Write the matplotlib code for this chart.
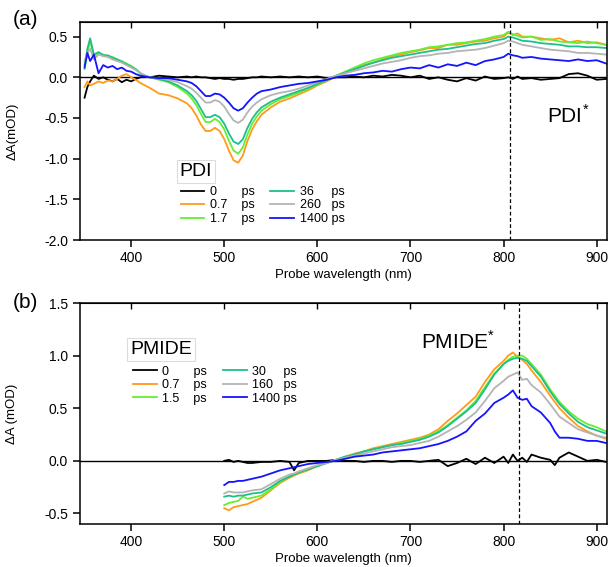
import numpy as np
import matplotlib
matplotlib.use('Agg')
import matplotlib.pyplot as plt

plt.rcParams['font.family'] = ['Liberation Sans', 'DejaVu Sans']
plt.rcParams['mathtext.fontset'] = 'custom'
plt.rcParams['mathtext.rm'] = 'Liberation Sans'

# ---- panel (a) data: PDI ----
wl_a = [350, 353, 356, 360, 365, 370, 375, 380, 385, 390,
        395, 400, 405, 410, 415, 420, 430, 440, 450, 460,
        465, 470, 475, 480, 485, 490, 495, 500, 505, 510,
        515, 520, 525, 530, 535, 540, 550, 560, 570, 580,
        590, 600, 610, 620, 630, 640, 650, 660, 670, 680,
        690, 700, 710, 720, 730, 740, 750, 760, 770, 780,
        790, 800, 805, 810, 815, 820, 830, 840, 850, 860,
        870, 880, 890, 900, 910]

pdi_0 = [-0.25, -0.12, -0.05, 0.02, -0.02, 0.0, -0.03, -0.05, -0.02, -0.06,
         -0.03, -0.05, -0.02, 0.0, 0.01, 0.0, 0.02, 0.01, 0.0, 0.01,
         0.0, 0.01, 0.0, 0.0, -0.01, -0.02, -0.01, -0.02, -0.02, -0.03,
         -0.02, -0.02, -0.01, 0.0, 0.0, 0.01, 0.0, 0.01, 0.0, 0.01,
         0.0, 0.01, -0.01, 0.0, 0.0, 0.01, 0.0, 0.02, 0.01, 0.03,
         0.02, 0.0, 0.02, -0.02, 0.0, -0.03, -0.05, -0.01, -0.04, 0.01,
         -0.02, -0.01, 0.0, -0.02, 0.01, -0.02, -0.01, -0.03, -0.02, -0.01,
         0.04, 0.05, 0.02, -0.03, -0.02]
pdi_07 = [-0.12, -0.05, -0.1, -0.08, -0.05, -0.07, -0.04, -0.05, -0.02, 0.02,
          0.04, 0.0, -0.03, -0.07, -0.1, -0.13, -0.2, -0.22, -0.26, -0.32,
          -0.38, -0.47, -0.58, -0.66, -0.66, -0.62, -0.66, -0.76, -0.9, -1.02,
          -1.05, -0.96, -0.78, -0.64, -0.54, -0.46, -0.37, -0.3, -0.26, -0.21,
          -0.16, -0.1, -0.05, 0.01, 0.05, 0.1, 0.15, 0.18, 0.22, 0.26,
          0.28, 0.31, 0.33, 0.36, 0.36, 0.4, 0.4, 0.42, 0.44, 0.45,
          0.48, 0.5, 0.55, 0.52, 0.54, 0.5, 0.5, 0.48, 0.46, 0.48,
          0.43, 0.45, 0.42, 0.43, 0.4]
pdi_17 = [0.1, 0.3, 0.45, 0.25, 0.3, 0.28, 0.26, 0.25, 0.22, 0.2,
          0.17, 0.14, 0.1, 0.05, 0.02, 0.0, -0.03, -0.06, -0.12, -0.2,
          -0.26, -0.34, -0.45, -0.55, -0.55, -0.51, -0.55, -0.64, -0.78, -0.9,
          -0.94, -0.86, -0.7, -0.57, -0.48, -0.41, -0.33, -0.27, -0.23, -0.19,
          -0.14, -0.09, -0.04, 0.02, 0.07, 0.12, 0.17, 0.21, 0.24, 0.27,
          0.3, 0.32, 0.34, 0.37, 0.38, 0.4, 0.42, 0.43, 0.45, 0.47,
          0.5, 0.52, 0.56, 0.53, 0.51, 0.49, 0.5, 0.46, 0.47, 0.44,
          0.43, 0.42, 0.44, 0.42, 0.4]
pdi_36 = [0.15, 0.35, 0.48, 0.28, 0.31, 0.27, 0.27, 0.24, 0.22, 0.19,
          0.16, 0.13, 0.1, 0.05, 0.02, 0.0, -0.02, -0.05, -0.1, -0.17,
          -0.22, -0.29, -0.39, -0.49, -0.49, -0.46, -0.49, -0.57, -0.69, -0.79,
          -0.82, -0.76, -0.62, -0.51, -0.43, -0.37, -0.3, -0.25, -0.21, -0.17,
          -0.13, -0.08, -0.03, 0.02, 0.06, 0.1, 0.14, 0.18, 0.21, 0.24,
          0.26, 0.28, 0.3, 0.32, 0.34, 0.35, 0.37, 0.39, 0.41, 0.42,
          0.45, 0.47, 0.5, 0.49, 0.47, 0.45, 0.44, 0.42, 0.41, 0.4,
          0.38, 0.38, 0.37, 0.37, 0.36]
pdi_260 = [0.2, 0.3, 0.35, 0.22, 0.28, 0.26, 0.25, 0.22, 0.2, 0.18,
           0.15, 0.12, 0.09, 0.05, 0.02, 0.0, -0.01, -0.03, -0.06, -0.11,
           -0.14, -0.19, -0.25, -0.31, -0.31, -0.28, -0.3, -0.36, -0.45, -0.53,
           -0.56, -0.52, -0.43, -0.36, -0.31, -0.27, -0.22, -0.19, -0.17, -0.14,
           -0.1, -0.06, -0.02, 0.02, 0.05, 0.08, 0.11, 0.14, 0.17, 0.19,
           0.21, 0.24, 0.26, 0.27, 0.29, 0.3, 0.32, 0.33, 0.34, 0.36,
           0.39, 0.42, 0.45, 0.44, 0.42, 0.4, 0.38, 0.36, 0.34, 0.33,
           0.32, 0.3, 0.3, 0.29, 0.28]
pdi_1400 = [0.12, 0.3, 0.2, 0.28, 0.05, 0.15, 0.12, 0.14, 0.1, 0.12,
            0.08, 0.07, 0.04, 0.02, 0.01, 0.0, -0.01, -0.01, -0.03, -0.05,
            -0.07, -0.11, -0.17, -0.23, -0.23, -0.2, -0.21, -0.25, -0.31, -0.38,
            -0.41, -0.38, -0.31, -0.25, -0.2, -0.17, -0.15, -0.12, -0.1, -0.08,
            -0.07, -0.05, -0.03, 0.0, 0.02, 0.03, 0.05, 0.06, 0.08, 0.07,
            0.1, 0.12, 0.11, 0.15, 0.12, 0.16, 0.14, 0.18, 0.15, 0.2,
            0.22, 0.25, 0.29, 0.27, 0.26, 0.24, 0.25, 0.23, 0.22, 0.21,
            0.2, 0.22, 0.2, 0.21, 0.17]

# ---- panel (b) data: PMIDE ----
wl_b = [500, 505, 510, 515, 520, 525, 530, 540, 550, 560,
        570, 575, 580, 590, 600, 610, 620, 630, 640, 650,
        660, 670, 680, 690, 700, 710, 720, 730, 740, 750,
        760, 770, 780, 790, 800, 805, 810, 815, 820, 825,
        830, 840, 850, 855, 860, 870, 880, 890, 900, 910]

pm_0 = [0.0, 0.01, -0.01, 0.0, -0.01, -0.02, -0.02, -0.01, -0.01, 0.0,
        -0.01, -0.09, -0.02, 0.0, 0.0, 0.0, 0.01, 0.0, 0.0, -0.01,
        0.0, 0.0, -0.01, 0.0, 0.0, -0.01, 0.0, 0.01, -0.05, -0.02,
        0.02, -0.03, 0.03, -0.02, 0.04, -0.02, 0.06, 0.0, 0.03, -0.01,
        0.06, 0.03, 0.01, -0.04, 0.03, 0.08, 0.04, 0.0, 0.01, -0.01]
pm_07 = [-0.45, -0.47, -0.44, -0.43, -0.42, -0.41, -0.39, -0.35, -0.28, -0.21,
         -0.16, -0.14, -0.12, -0.09, -0.05, -0.02, 0.01, 0.04, 0.07, 0.09,
         0.12, 0.14, 0.16, 0.18, 0.2, 0.22, 0.25, 0.3, 0.38, 0.45,
         0.53, 0.61, 0.75, 0.87, 0.95, 1.0, 1.03, 0.99, 0.96, 0.92,
         0.86, 0.75, 0.62, 0.56, 0.5, 0.41, 0.33, 0.28, 0.24, 0.21]
pm_15 = [-0.42, -0.4, -0.39, -0.38, -0.34, -0.36, -0.35, -0.33, -0.27, -0.2,
         -0.15, -0.13, -0.11, -0.08, -0.05, -0.02, 0.01, 0.04, 0.06, 0.09,
         0.11, 0.13, 0.15, 0.17, 0.19, 0.21, 0.24, 0.28, 0.34, 0.41,
         0.48, 0.57, 0.7, 0.83, 0.92, 0.96, 0.99, 1.0, 1.0, 0.97,
         0.92, 0.82, 0.68, 0.62, 0.56, 0.47, 0.4, 0.35, 0.32, 0.28]
pm_30 = [-0.34, -0.33, -0.34, -0.33, -0.33, -0.32, -0.31, -0.3, -0.25, -0.19,
         -0.15, -0.13, -0.11, -0.08, -0.05, -0.02, 0.01, 0.04, 0.06, 0.09,
         0.11, 0.13, 0.15, 0.16, 0.18, 0.2, 0.23, 0.27, 0.33, 0.4,
         0.47, 0.55, 0.68, 0.82, 0.92, 0.95, 0.97, 0.98, 0.97, 0.95,
         0.9, 0.8, 0.66, 0.6, 0.54, 0.45, 0.37, 0.32, 0.29, 0.26]
pm_160 = [-0.31, -0.29, -0.3, -0.3, -0.3, -0.29, -0.28, -0.27, -0.22, -0.17,
          -0.13, -0.12, -0.1, -0.07, -0.04, -0.02, 0.01, 0.03, 0.05, 0.07,
          0.09, 0.11, 0.13, 0.14, 0.15, 0.17, 0.19, 0.23, 0.28, 0.33,
          0.39, 0.46, 0.57, 0.69, 0.76, 0.8, 0.82, 0.84, 0.77, 0.78,
          0.72, 0.65, 0.54, 0.48, 0.42, 0.36, 0.3, 0.27, 0.24, 0.22]
pm_1400 = [-0.23, -0.2, -0.2, -0.19, -0.19, -0.18, -0.17, -0.15, -0.12, -0.09,
           -0.07, -0.06, -0.05, -0.03, -0.02, -0.01, 0.0, 0.02, 0.04, 0.05,
           0.06, 0.08, 0.09, 0.1, 0.11, 0.12, 0.14, 0.16, 0.19, 0.23,
           0.28, 0.38, 0.45, 0.55, 0.6, 0.63, 0.67, 0.6, 0.58, 0.59,
           0.52, 0.46, 0.36, 0.28, 0.22, 0.22, 0.21, 0.19, 0.19, 0.17]

colors = ['black', '#ff9a1a', '#66ee33', '#1dbf8c', '#b4b4b4', '#1414ff']
labels_a = ['0       ps', '0.7    ps', '1.7    ps', '36     ps', '260   ps', '1400 ps']
labels_b = ['0       ps', '0.7    ps', '1.5    ps', '30     ps', '160   ps', '1400 ps']

fig = plt.figure(figsize=(6.1, 5.67), dpi=100)
ax1 = fig.add_axes([0.131, 0.5767, 0.864, 0.3845])
ax2 = fig.add_axes([0.131, 0.0758, 0.864, 0.3898])


def style_axes(ax):
    for s in ax.spines.values():
        s.set_linewidth(1.1)
    ax.tick_params(axis='both', direction='out', length=5, width=1.1, labelsize=10)
    ax.tick_params(axis='x', pad=3)
    ax.axhline(0, color='black', lw=1.0, zorder=1)
    ax.set_xlim(345, 911)
    ax.set_xticks([400, 500, 600, 700, 800, 900])
    ax.set_xlabel('Probe wavelength (nm)', fontsize=9.5, labelpad=3)
    # small inward ticks along the top edge
    top = ax.secondary_xaxis('top')
    top.set_xticks([400, 500, 600, 700, 800, 900])
    top.tick_params(direction='in', length=4, width=1.0, labeltop=False)


def make_legend(ax, lines, labs, x, y):
    leg = ax.legend(lines, labs, ncol=2, loc='upper left', bbox_to_anchor=(x, y),
                    bbox_transform=fig.transFigure, frameon=False, fontsize=9,
                    handlelength=1.9, handletextpad=0.45, labelspacing=0.12,
                    columnspacing=1.25, borderpad=0, borderaxespad=0)
    return leg


# panel (a)
series_a = [pdi_0, pdi_07, pdi_17, pdi_36, pdi_260, pdi_1400]
lines_a = []
for ys, c in zip(series_a, colors):
    ln, = ax1.plot(wl_a, ys, color=c, lw=1.3, zorder=2)
    lines_a.append(ln)
style_axes(ax1)
ax1.set_ylim(-2.0, 0.68)
ax1.set_yticks([-2.0, -1.5, -1.0, -0.5, 0.0, 0.5])
ax1.set_yticklabels(['-2.0', '-1.5', '-1.0', '-0.5', '0.0', '0.5'])
ax1.axvline(807, color='black', ls=(0, (3, 2)), lw=0.9)
make_legend(ax1, lines_a, labels_a, 0.296, 0.672)

# panel (b)
series_b = [pm_0, pm_07, pm_15, pm_30, pm_160, pm_1400]
lines_b = []
for ys, c in zip(series_b, colors):
    ln, = ax2.plot(wl_b, ys, color=c, lw=1.3, zorder=2)
    lines_b.append(ln)
style_axes(ax2)
ax2.set_ylim(-0.6, 1.5)
ax2.set_yticks([-0.5, 0.0, 0.5, 1.0, 1.5])
ax2.set_yticklabels(['-0.5', '0.0', '0.5', '1.0', '1.5'])
ax2.axvline(817, color='black', ls=(0, (3, 2)), lw=0.9)
make_legend(ax2, lines_b, labels_b, 0.218, 0.355)

# texts
fig.text(0.041, 0.966, '(a)', fontsize=15, ha='center', va='center')
fig.text(0.041, 0.466, '(b)', fontsize=15, ha='center', va='center')
fig.text(0.020, 0.769, 'ΔA(mOD)', fontsize=9.5, rotation=90, ha='center', va='center')
fig.text(0.020, 0.270, 'ΔA (mOD)', fontsize=9.5, rotation=90, ha='center', va='center')
fig.text(0.931, 0.797, r'PDI$^\mathregular{*}$', fontsize=15, ha='center', va='center')
fig.text(0.751, 0.397, r'PMIDE$^\mathregular{*}$', fontsize=15, ha='center', va='center')
fig.text(0.321, 0.697, 'PDI', fontsize=14, ha='center', va='center',
         bbox=dict(boxstyle='square,pad=0.15', fc='white', ec='#dcdcdc', lw=0.8))
fig.text(0.264, 0.383, 'PMIDE', fontsize=14, ha='center', va='center',
         bbox=dict(boxstyle='square,pad=0.15', fc='white', ec='#dcdcdc', lw=0.8))

fig.savefig('out.png', dpi=100)
